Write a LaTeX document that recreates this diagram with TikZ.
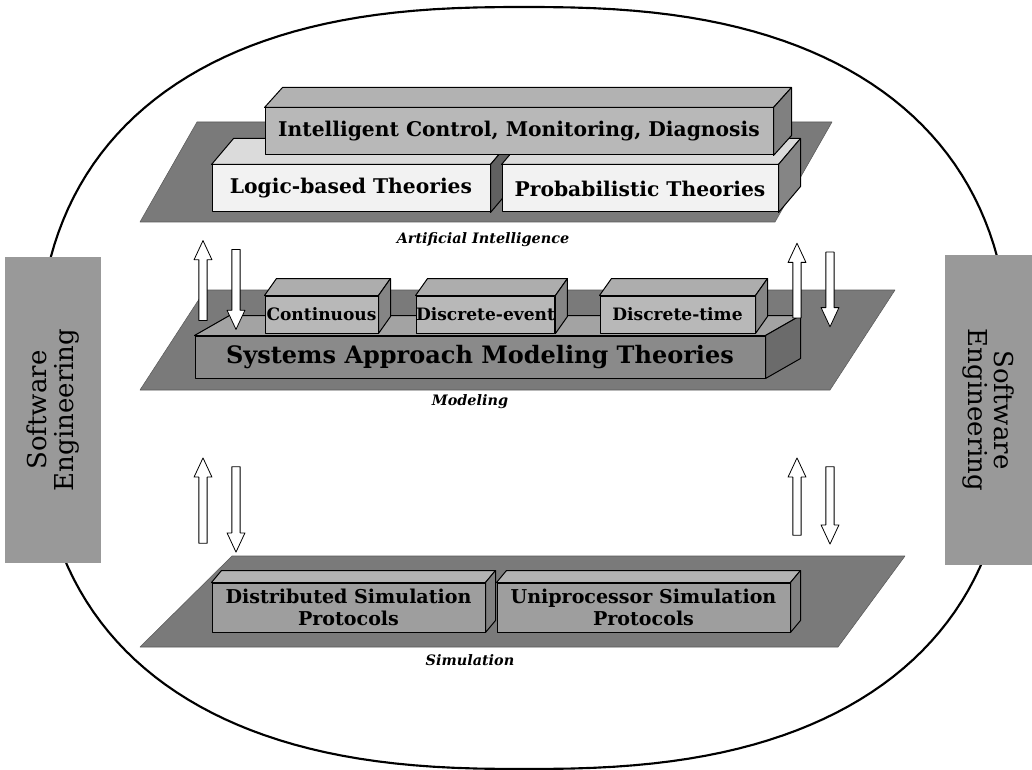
\documentclass[tikz,border=0pt]{standalone}
\usepackage{fontspec}
\setmainfont{DejaVu Serif}
\usetikzlibrary{calc,fit,shapes.arrows,positioning}

% top and right faces of a slab whose front face is a node
\newcommand{\slabfaces}[5]{%
  \filldraw[fill=#4] (#1.north west) -- ++(#2,#3) -- ($(#1.north east)+(#2,#3)$) -- (#1.north east) -- cycle;
  \filldraw[fill=#5] (#1.north east) -- ++(#2,#3) -- ($(#1.south east)+(#2,#3)$) -- (#1.south east) -- cycle;}

\begin{document}
\begin{tikzpicture}[x=0.75pt,y=-0.75pt,line join=round,line width=0.75pt]
\colorlet{plate}{black!52}
\colorlet{side panel}{black!40}
\tikzset{
     platform/.style={fill=plate, draw=black!65, thin},
     front/.style={draw, inner sep=0pt, align=center, font=\bfseries\fontsize{15.2}{18}\selectfont},
     layername/.style={font=\bfseries\itshape\fontsize{10.8}{13}\selectfont},
     sidebox/.style={fill=side panel, inner sep=0pt, align=center, font=\fontsize{19.5}{20}\selectfont},
     hollow/.style={single arrow, draw, fill=white, line width=0.6pt, inner sep=2.8pt, minimum height=#1,
                    single arrow head extend=3.6pt, single arrow tip angle=50, single arrow head indent=0pt}}

\useasboundingbox (0,0) rectangle (1032,770);

% The outline
\draw[line width=1.6pt] plot[domain=1:359, samples=180]
  ({524+487*cos(\x)*abs(cos(\x))^(-0.2)}, {388-381*sin(\x)*abs(sin(\x))^(-0.2)}) -- cycle;

% Software engineering panels
\node (seleft) at (53,410) [sidebox, rotate=90, minimum width=229.5pt, minimum height=72pt] {Software\\Engineering};
\node (seright) at (988.5,410) [sidebox, rotate=-90, minimum width=232.5pt, minimum height=65.25pt] {Software\\Engineering};

% Artificial intelligence layer
\filldraw[platform] (140,222) -- (775,222) -- (832,122) -- (197,122) -- cycle;
\node (logic) at (351,188.5) [front, fill=black!5, minimum width=208.5pt, minimum height=35.25pt] {Logic-based Theories};
\slabfaces{logic}{22}{-26}{black!14}{black!62}
\node (prob) at (640,188.5) [front, fill=black!5, minimum width=207pt, minimum height=35.25pt] {Probabilistic Theories};
\slabfaces{prob}{22}{-26}{black!14}{black!48}
\node (intel) at (519,131.5) [front, fill=black!28, minimum width=381pt, minimum height=35.25pt] {Intelligent Control, Monitoring, Diagnosis};
\slabfaces{intel}{18}{-20}{black!30}{black!50}
\node (ai) at (483,240) [layername] {Artificial Intelligence};

% Modeling layer
\filldraw[platform] (140,390) -- (830,390) -- (895,290) -- (205,290) -- cycle;
\node (systems) at (480,357) [front, fill=black!46, minimum width=427.5pt, minimum height=31.5pt,
       font=\bfseries\fontsize{18}{20}\selectfont] {Systems Approach Modeling Theories};
\slabfaces{systems}{35}{-20}{black!36}{black!58}
\tikzset{kind/.style={front, fill=black!28, minimum height=27.75pt, font=\bfseries\fontsize{12.8}{15}\selectfont}}
\node (cont) at (321.5,314.5) [kind, minimum width=84.75pt] {Continuous};
\slabfaces{cont}{12}{-17}{black!32}{black!48}
\node (devent) at (485.5,314.5) [kind, minimum width=101.25pt] {Discrete-event};
\slabfaces{devent}{12}{-17}{black!32}{black!48}
\node (dtime) at (677.5,314.5) [kind, minimum width=116.25pt] {Discrete-time};
\slabfaces{dtime}{12}{-17}{black!32}{black!48}
\node (model) at (470,402) [layername] {Modeling};

% Simulation layer
\filldraw[platform] (140,647) -- (838,647) -- (905,556) -- (232,556) -- cycle;
\tikzset{proto/.style={front, fill=black!38, minimum height=36.75pt, font=\bfseries\fontsize{14.3}{17}\selectfont}}
\node (dist) at (348.5,607.5) [proto, minimum width=204.75pt] {Distributed Simulation\\Protocols};
\slabfaces{dist}{10}{-12}{black!30}{black!50}
\node (uni) at (643.5,607.5) [proto, minimum width=219.75pt] {Uniprocessor Simulation\\Protocols};
\slabfaces{uni}{10}{-12}{black!30}{black!50}
\node (sim) at (470,660) [layername] {Simulation};

% The arrows between layers
\node (upAM)   [hollow=60pt, rotate=90]  at (203,285) {};
\node (downAM) [hollow=60pt, rotate=-90] at (236,285) {};
\node (upAMr)   [hollow=56pt, rotate=90]  at (797,285) {};
\node (downAMr) [hollow=56pt, rotate=-90] at (830,285) {};
\node (upMS)   [hollow=64pt, rotate=90]  at (203,505) {};
\node (downMS) [hollow=64pt, rotate=-90] at (236,505) {};
\node (upMSr)   [hollow=58pt, rotate=90]  at (797,501) {};
\node (downMSr) [hollow=58pt, rotate=-90] at (830,501) {};
\end{tikzpicture}
\end{document}
